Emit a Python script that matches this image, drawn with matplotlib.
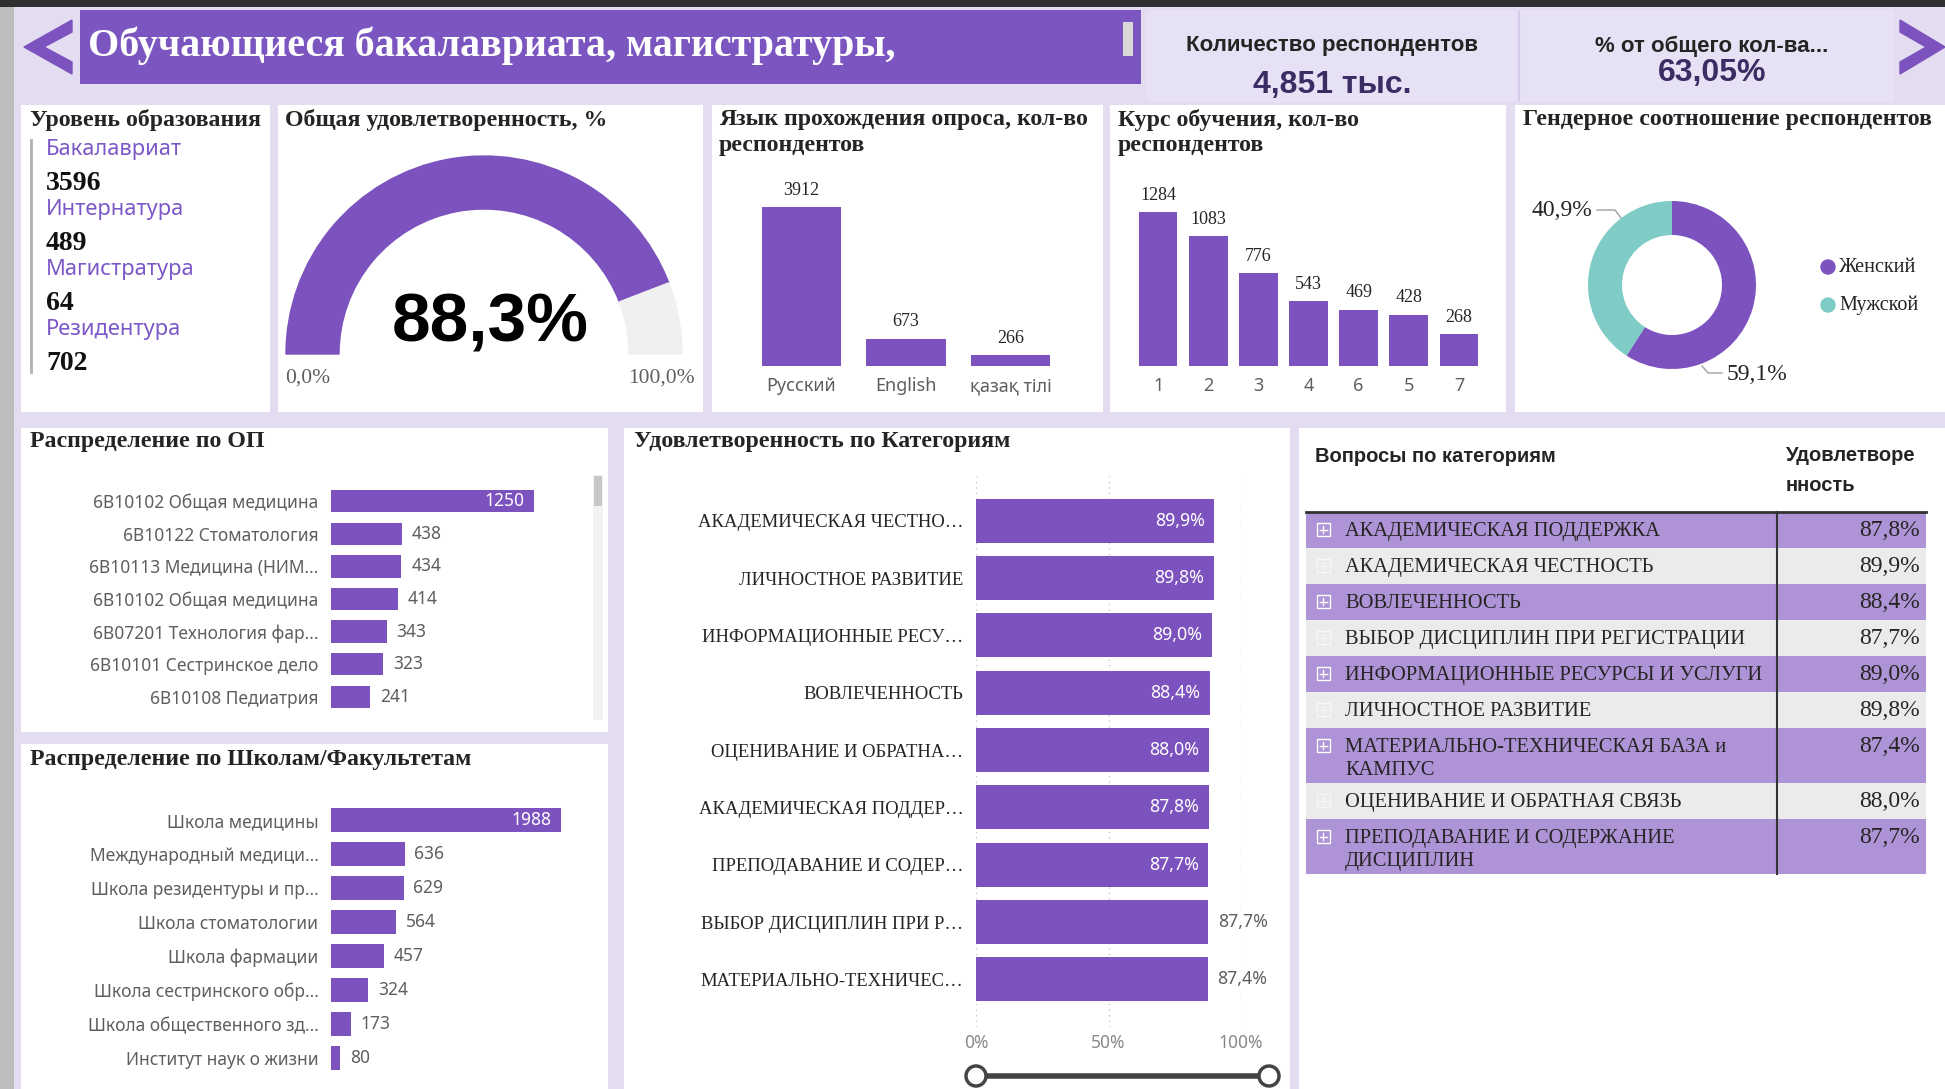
import numpy as np
import matplotlib.pyplot as plt
from matplotlib.patches import Rectangle, Wedge, Circle, Polygon

# ---- данные ----
header_title = 'Обучающиеся бакалавриата, магистратуры,'
kpi_labels = ['Количество респондентов', '% от общего кол-ва...']
kpi_values = ['4,851 тыс.', '63,05%']

levels = ['Бакалавриат', 'Интернатура', 'Магистратура', 'Резидентура']
level_counts = [3596, 489, 64, 702]

satisfaction_total = 88.3

languages = ['Русский', 'English', 'қазақ тілі']
language_counts = [3912, 673, 266]

courses = ['1', '2', '3', '4', '6', '5', '7']
course_counts = [1284, 1083, 776, 543, 469, 428, 268]

genders = ['Женский', 'Мужской']
gender_share = [59.1, 40.9]

programs = ['6B10102 Общая медицина', '6B10122 Стоматология', '6B10113 Медицина (НИМ...',
            '6B10102 Общая медицина', '6B07201 Технология фар...', '6B10101 Сестринское дело',
            '6B10108 Педиатрия']
program_counts = [1250, 438, 434, 414, 343, 323, 241]

schools = ['Школа медицины', 'Международный медици...', 'Школа резидентуры и пр...',
           'Школа стоматологии', 'Школа фармации', 'Школа сестринского обр...',
           'Школа общественного зд...', 'Институт наук о жизни']
school_counts = [1988, 636, 629, 564, 457, 324, 173, 80]

categories = ['АКАДЕМИЧЕСКАЯ ЧЕСТНО…', 'ЛИЧНОСТНОЕ РАЗВИТИЕ', 'ИНФОРМАЦИОННЫЕ РЕСУ…',
              'ВОВЛЕЧЕННОСТЬ', 'ОЦЕНИВАНИЕ И ОБРАТНА…', 'АКАДЕМИЧЕСКАЯ ПОДДЕР…',
              'ПРЕПОДАВАНИЕ И СОДЕР…', 'ВЫБОР ДИСЦИПЛИН ПРИ Р…', 'МАТЕРИАЛЬНО-ТЕХНИЧЕС…']
category_scores = [89.9, 89.8, 89.0, 88.4, 88.0, 87.8, 87.7, 87.7, 87.4]

table_questions = ['АКАДЕМИЧЕСКАЯ ПОДДЕРЖКА', 'АКАДЕМИЧЕСКАЯ ЧЕСТНОСТЬ', 'ВОВЛЕЧЕННОСТЬ',
                   'ВЫБОР ДИСЦИПЛИН ПРИ РЕГИСТРАЦИИ', 'ИНФОРМАЦИОННЫЕ РЕСУРСЫ И УСЛУГИ',
                   'ЛИЧНОСТНОЕ РАЗВИТИЕ', 'МАТЕРИАЛЬНО-ТЕХНИЧЕСКАЯ БАЗА и\nКАМПУС',
                   'ОЦЕНИВАНИЕ И ОБРАТНАЯ СВЯЗЬ', 'ПРЕПОДАВАНИЕ И СОДЕРЖАНИЕ\nДИСЦИПЛИН']
table_scores = [87.8, 89.9, 88.4, 87.7, 89.0, 89.8, 87.4, 88.0, 87.7]

# ---- стиль ----
W, H = 1945, 1089
PURPLE = '#7C52BE'
TEAL = '#7ECCC5'
BG = '#E4DDF2'
DARK = '#252423'
GRAY = '#605E5C'
SERIF = ['Liberation Serif', 'DejaVu Serif']
SANS = ['Liberation Sans', 'DejaVu Sans']
UI = ['Noto Sans', 'DejaVu Sans']


def pct(v):
    return f'{v:.1f}'.replace('.', ',') + '%'


fig = plt.figure(figsize=(W / 100, H / 100), dpi=100)
fig.patch.set_facecolor(BG)
bg = fig.add_axes([0, 0, 1, 1])
bg.set_xlim(0, W)
bg.set_ylim(H, 0)
bg.axis('off')


def px_axes(x0, y0, x1, y1):
    ax = fig.add_axes([x0 / W, 1 - y1 / H, (x1 - x0) / W, (y1 - y0) / H])
    ax.patch.set_alpha(0)
    for s in ax.spines.values():
        s.set_visible(False)
    return ax


def box(x0, y0, x1, y1, color='white', **kw):
    bg.add_patch(Rectangle((x0, y0), x1 - x0, y1 - y0, color=color, lw=0, **kw))


# рамка и шапка
box(0, 0, W, 7, '#2F2F2F')
box(0, 7, 14, H, '#BDBDBD')
box(80, 10, 1141, 84, '#7C56C0')
box(1123, 22, 1133, 56, '#D9D9D9')
box(1147, 10, 1894, 102, '#E7E1F6')
bg.plot([1519, 1519], [12, 100], color='#D5CCEA', lw=1.5)
bg.add_patch(Polygon([(72, 20), (24, 47), (72, 74), (72, 62), (44, 47), (72, 32)], color=PURPLE))
bg.add_patch(Polygon([(1900, 20), (1945, 47), (1900, 74), (1900, 62), (1926, 47), (1900, 32)], color=PURPLE))
bg.text(88, 46, header_title, color='white', fontsize=28.8, fontweight='bold', family=SERIF, va='center')
for cx, lab, val, vy in [(1332, kpi_labels[0], kpi_values[0], 85), (1712, kpi_labels[1], kpi_values[1], 73)]:
    bg.text(cx, 46, lab, fontsize=16, fontweight='bold', family=SANS, color=DARK, ha='center', va='center')
    bg.text(cx, vy, val, fontsize=23, fontweight='bold', family=SANS, color='#3B2C63', ha='center', va='center')

# панели
panels = [(21, 105, 270, 412), (278, 105, 703, 412), (712, 105, 1103, 412), (1110, 105, 1506, 412),
          (1515, 105, 1945, 412), (21, 428, 608, 732), (21, 744, 608, 1089), (624, 428, 1290, 1089),
          (1299, 428, 1945, 1089)]
for p in panels:
    box(*p)

titles = [(30, 120, 'Уровень образования'), (285, 120, 'Общая удовлетворенность, %'),
          (719, 120, 'Язык прохождения опроса, кол-во'), (719, 146, 'респондентов'),
          (1118, 120, 'Курс обучения, кол-во'), (1118, 146, 'респондентов'),
          (1523, 120, 'Гендерное соотношение респондентов'), (30, 442, 'Распределение по ОП'),
          (30, 760, 'Распределение по Школам/Факультетам'), (634, 442, 'Удовлетворенность по Категориям')]
for x, y, t in titles:
    bg.text(x, y, t, fontsize=17.2, fontweight='bold', family=SERIF, color=DARK, va='center')

# уровень образования
bg.plot([31, 31], [140, 372], color='#B0B0B0', lw=2)
for i, (lab, n) in enumerate(zip(levels, level_counts)):
    y0 = 149 + i * 60
    bg.text(46, y0, lab, fontsize=15.8, family=UI, color='#7B57C8', va='center')
    bg.text(46, y0 + 34, str(n), fontsize=20, fontweight='bold', family=SERIF, color='#111111', va='center')

# общая удовлетворенность - полукруглый индикатор
ax = px_axes(274, 144, 694, 374)
ax.set_xlim(-210, 210)
ax.set_ylim(-20, 210)
ax.set_xticks([])
ax.set_yticks([])
split = 180 - satisfaction_total / 100 * 180
ax.add_patch(Wedge((0, 0), 198, split, 180, width=53, color=PURPLE))
ax.add_patch(Wedge((0, 0), 198, 0, split, width=53, color='#F0F0F0'))
ax.text(6, 31, pct(satisfaction_total), fontsize=50, fontweight='bold', family=SANS, ha='center', va='center')
bg.text(285, 378, '0,0%', fontsize=15.5, family=SERIF, color=GRAY, va='center')
bg.text(695, 378, '100,0%', fontsize=15.5, family=SERIF, color=GRAY, va='center', ha='right')


def vbars(rect, labels, values, width):
    ax = px_axes(*rect)
    x = np.arange(len(values))
    bars = ax.bar(x, values, width=width, color=PURPLE)
    ax.set_xlim(-0.5, len(values) - 0.5)
    ax.set_ylim(0, max(values) * 1.11)
    ax.bar_label(bars, padding=6, fontsize=13, family=SERIF, color=DARK)
    ax.set_xticks(x, labels, fontfamily=UI)
    ax.tick_params(axis='x', length=0, pad=8, labelsize=13, labelcolor=GRAY)
    ax.set_yticks([])


vbars((749, 190, 1063, 366), languages, language_counts, 0.76)
vbars((1133, 195, 1484, 366), courses, course_counts, 0.77)

# гендер
ax = px_axes(1572, 185, 1772, 385)
ax.pie(gender_share, colors=[PURPLE, TEAL], startangle=90, counterclock=False, radius=0.84,
       wedgeprops=dict(width=0.34, edgecolor='none'))
ax.set_xlim(-1, 1)
ax.set_ylim(-1, 1)
bg.plot([1597, 1615, 1621], [210, 210, 218], color='#A0A0A0', lw=1)
bg.plot([1702, 1708, 1722], [366, 373, 373], color='#A0A0A0', lw=1)
bg.text(1592, 211, pct(gender_share[1]), fontsize=17, family=SERIF, color=DARK, ha='right', va='center')
bg.text(1727, 374, pct(gender_share[0]), fontsize=17, family=SERIF, color=DARK, va='center')
for i, (g, c) in enumerate(zip(genders, [PURPLE, TEAL])):
    y = 267 + i * 38
    bg.add_patch(Circle((1828, y), 7, color=c))
    bg.text(1839, y, g, fontsize=14.5, family=SERIF, color=DARK, va='center')


def hbars(rect, labels, values, xmax, height, inside, fs, fmt=str, lab_family=UI, lab_color=GRAY, lab_size=12.5):
    ax = px_axes(*rect)
    y = np.arange(len(values))
    ax.barh(y, values, height=height, color=PURPLE)
    ax.set_xlim(0, xmax)
    ax.set_ylim(len(values) - 0.5, -0.5)
    ax.set_yticks(y, labels, fontfamily=lab_family)
    ax.tick_params(axis='y', length=0, pad=9, labelsize=lab_size, labelcolor=lab_color)
    ax.set_xticks([])
    for i, v in enumerate(values):
        if i < inside:
            ax.annotate(fmt(v), (v, i), xytext=(-7, 0), textcoords='offset points', ha='right', va='center',
                        color='white', fontsize=fs, family=UI)
        else:
            ax.annotate(fmt(v), (v, i), xytext=(7, 0), textcoords='offset points', ha='left', va='center',
                        color=GRAY, fontsize=fs, family=UI)
    return ax


hbars((331, 485, 600, 713), programs, program_counts, 1656, 0.68, 1, 12.5)
box(593, 475, 603, 720, '#F3F3F3')
box(594, 476, 602, 506, '#C8C8C8')
hbars((331, 803, 600, 1075), schools, school_counts, 2325, 0.73, 1, 12.5)

# удовлетворенность по категориям
ax = hbars((976, 476, 1241, 1027), categories, category_scores, 100, 0.77, 7, 12.8, fmt=pct,
           lab_family=SERIF, lab_color=DARK, lab_size=13.4)
ax.set_ylim(8.83, -0.78)
for gx in [0, 50, 100]:
    ax.axvline(gx, color='#C8C8C8', lw=1, ls=(0, (1, 3)), zorder=0)
ax.set_xticks([0, 50, 100], ['0%', '50%', '100%'], fontfamily=UI)
ax.tick_params(axis='x', length=0, pad=5, labelsize=12.5, labelcolor='#8A8886')
bg.plot([976, 1269], [1076, 1076], color='#444444', lw=4, zorder=2)
for cx in [976, 1269]:
    bg.add_patch(Circle((cx, 1076), 10, facecolor='white', edgecolor='#444444', lw=2.5, zorder=3))

# таблица
bg.text(1315, 457, 'Вопросы по категориям', fontsize=14.5, fontweight='bold', family=SANS, color=DARK, va='center')
bg.text(1786, 446, 'Удовлетворе\nнность', fontsize=14.5, fontweight='bold', family=SANS, color=DARK, va='top',
        linespacing=1.75)
y0 = 512
for i, (q, s) in enumerate(zip(table_questions, table_scores)):
    h = 36 + 19 * q.count('\n')
    box(1306, y0, 1926, y0 + h, '#AE94D6' if i % 2 == 0 else '#EBEBEB')
    ec = 'white' if i % 2 == 0 else '#F7F7F7'
    bg.add_patch(Rectangle((1317, y0 + 11), 13, 13, facecolor='none', edgecolor=ec, lw=1))
    bg.plot([1320, 1327], [y0 + 17.5, y0 + 17.5], color=ec, lw=1)
    bg.plot([1323.5, 1323.5], [y0 + 14, y0 + 21], color=ec, lw=1)
    bg.text(1345, y0 + 10, q, fontsize=14.8, family=SERIF, color=DARK, va='top', linespacing=1.3)
    bg.text(1920, y0 + 8, pct(s), fontsize=17, family=SERIF, color=DARK, va='top', ha='right')
    y0 += h
bg.plot([1306, 1926], [512, 512], color='#333333', lw=2)
bg.plot([1777, 1777], [512, y0], color='#333333', lw=1.5)

fig.savefig('out.png', dpi=100, facecolor=fig.get_facecolor())
